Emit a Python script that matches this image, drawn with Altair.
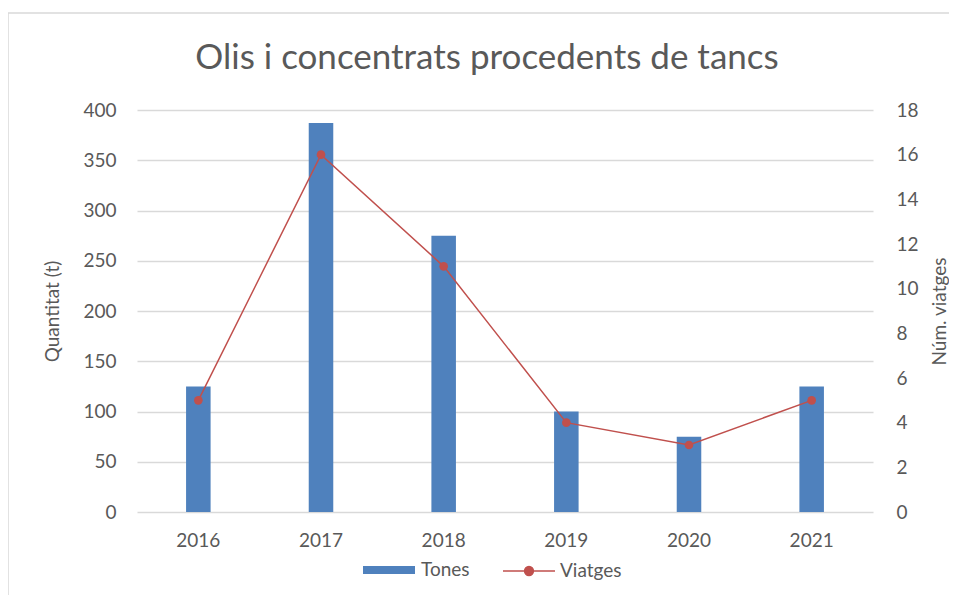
import altair as alt
import pandas as pd

years = ["2016", "2017", "2018", "2019", "2020", "2021"]
tones = [125, 387, 275, 100, 75, 125]
viatges = [5, 16, 11, 4, 3, 5]

df = pd.DataFrame({"year": years, "tones": tones, "viatges": viatges,
                   "s1": ["Tones"] * 6, "s2": ["Viatges"] * 6})

BLUE = "#4F81BD"
RED = "#C0504D"
TXT = "#595959"
FONT = "Lato"
FS = 19

xenc = alt.X("year:N", title=None,
             scale=alt.Scale(paddingInner=0.8, paddingOuter=0.4),
             axis=alt.Axis(labelAngle=0, domain=False, ticks=False, tickSize=0,
                           labelPadding=19, labelFontSize=FS, labelColor=TXT,
                           labelFont=FONT, grid=False))

base = alt.Chart(df)

bars = base.mark_bar(color=BLUE).encode(
    x=xenc,
    y=alt.Y("tones:Q", title="Quantitat (t)",
            scale=alt.Scale(domain=[0, 400], nice=False),
            axis=alt.Axis(values=list(range(0, 401, 50)), domain=False, ticks=False,
                          tickSize=0, labelPadding=21, labelFontSize=FS, labelColor=TXT,
                          labelFont=FONT, titleFont=FONT, titleFontSize=FS,
                          titleColor=TXT, titleFontWeight="normal", titlePadding=20,
                          grid=True, gridColor="#D9D9D9", gridWidth=1.3)),
    color=alt.Color("s1:N", scale=alt.Scale(domain=["Tones"], range=[BLUE]),
                    legend=alt.Legend(title=None, orient="none", legendX=226, legendY=434,
                                      symbolType="M-1,-0.15H1V0.15H-1Z", symbolSize=2704,
                                      symbolStrokeWidth=0, labelFontSize=FS,
                                      labelFont=FONT, labelColor=TXT, labelOffset=6)),
)

yr = alt.Y("viatges:Q", title="Núm. viatges",
           scale=alt.Scale(domain=[0, 18], nice=False),
           axis=alt.Axis(orient="right", values=list(range(0, 19, 2)), domain=False,
                         ticks=False, tickSize=0, labelPadding=23, labelFontSize=FS,
                         labelColor=TXT, labelFont=FONT, titleFont=FONT, titleFontSize=FS,
                         titleColor=TXT, titleFontWeight="normal", titlePadding=31,
                         titleAngle=270, grid=False))

leg2 = alt.Legend(title=None, orient="none", legendX=365, legendY=434,
                  symbolType="M-1,0H1M0.17,0A0.17,0.17,0,1,1,-0.17,0A0.17,0.17,0,1,1,0.17,0",
                  symbolSize=2704, symbolStrokeColor=RED, symbolFillColor=RED,
                  symbolStrokeWidth=1.5, labelFontSize=FS, labelFont=FONT,
                  labelColor=TXT, labelOffset=4)

line = base.mark_line(color=RED, strokeWidth=1.5).encode(
    x=xenc, y=yr,
    color=alt.Color("s2:N", scale=alt.Scale(domain=["Viatges"], range=[RED]), legend=leg2))
points = base.mark_point(filled=True, size=75, color=RED, opacity=1).encode(
    x=xenc, y=yr,
    color=alt.Color("s2:N", scale=alt.Scale(domain=["Viatges"], range=[RED]), legend=leg2))

rl = alt.layer(line, points)

frame = alt.Chart(pd.DataFrame({"a": [0]})).mark_rect(
    fill=None, stroke="#D9D9D9", strokeWidth=1.5).encode(
    x=alt.value(-129), x2=alt.value(900), y=alt.value(-97), y2=alt.value(600))

chart = alt.layer(frame, bars, rl).resolve_scale(
    y="independent", color="independent").resolve_legend(color="independent").properties(
    width=736, height=402,
    autosize=alt.AutoSizeParams(type="none"),
    padding={"left": 129, "top": 102, "right": 76, "bottom": 83},
    title=alt.Title("Olis i concentrats procedents de tancs", font=FONT, fontSize=35,
                    fontWeight="normal", color=TXT, anchor="middle", offset=-64,
                    dx=-18, frame="group"),
).configure_view(stroke=None)

chart.save("out.html", embed_options={"renderer": "svg", "actions": False})
